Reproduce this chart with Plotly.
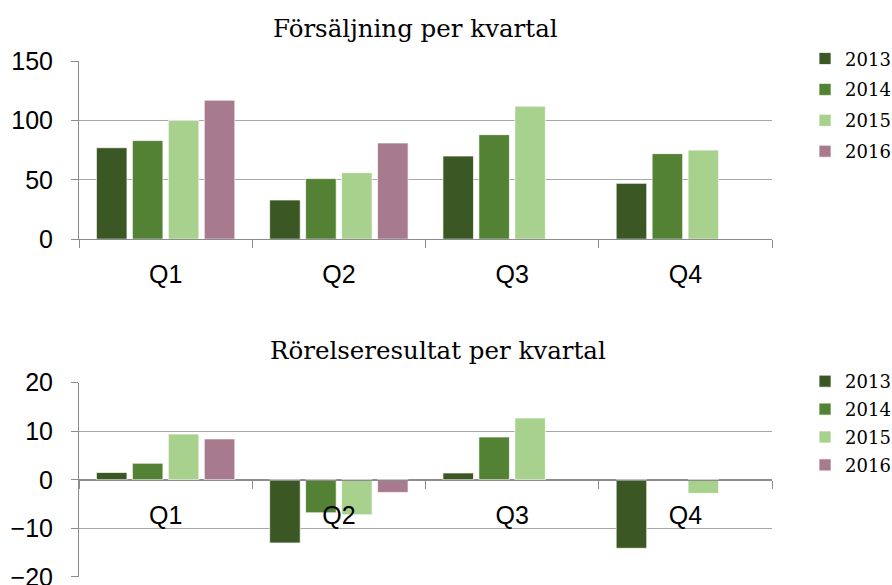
import plotly.graph_objects as go

quarters = ["Q1", "Q2", "Q3", "Q4"]
years = ["2013", "2014", "2015", "2016"]
colors = ["#3b5723", "#548235", "#a9d18e", "#a87a8e"]

sales_2013 = [77, 33, 70, 47]
sales_2014 = [83, 51, 88, 72]
sales_2015 = [100, 56, 112, 75]
sales_2016 = [117, 81, None, None]

ebit_2013 = [1.5, -13.0, 1.4, -14.1]
ebit_2014 = [3.4, -6.8, 8.8, None]
ebit_2015 = [9.4, -7.2, 12.7, -2.8]
ebit_2016 = [8.4, -2.6, None, None]

sales = [sales_2013, sales_2014, sales_2015, sales_2016]
ebit = [ebit_2013, ebit_2014, ebit_2015, ebit_2016]

title_top = "Försäljning per kvartal"
title_bottom = "Rörelseresultat per kvartal"

fig = go.Figure()

for yr, col, vals in zip(years, colors, sales):
    fig.add_trace(go.Bar(
        x=quarters, y=vals, name=yr, marker_color=col,
        marker_line=dict(width=1, color="rgba(255,255,255,0.7)"),
        xaxis="x", yaxis="y", legend="legend", legendgroup="a" + yr,
    ))
for yr, col, vals in zip(years, colors, ebit):
    fig.add_trace(go.Bar(
        x=quarters, y=vals, name=yr, marker_color=col,
        marker_line=dict(width=1, color="rgba(255,255,255,0.7)"),
        xaxis="x2", yaxis="y2", legend="legend2", legendgroup="b" + yr,
    ))

grid = "#a6a6a6"
line = "#8c8c8c"
tickfont = dict(family="Liberation Sans, Arial", size=25, color="#000000")
serif = "DejaVu Serif"

common_x = dict(
    type="category", showgrid=False, showline=True, linecolor=line, linewidth=1,
    ticks="outside", tickson="boundaries", ticklen=8, tickcolor=line,
    tickfont=tickfont, automargin=False, ticklabelstandoff=13,
)
common_y = dict(
    showgrid=True, gridcolor=grid, gridwidth=1.3, showline=True, linecolor=line,
    linewidth=1, ticks="outside", ticklen=7, tickcolor=line, tickfont=tickfont,
    automargin=False, ticklabelstandoff=13, zeroline=False,
    ticklabeloverflow="allow",
)

fig.update_layout(
    width=892, height=585, template="none",
    paper_bgcolor="white", plot_bgcolor="white",
    margin=dict(l=78.7, r=119.7, t=61, b=7.7),
    barmode="group", bargap=0.17, bargroupgap=0.15,
    xaxis=dict(common_x, domain=[0, 1], anchor="y"),
    yaxis=dict(common_y, domain=[0.6547, 1.0], range=[0, 150], dtick=50),
    xaxis2=dict(common_x, domain=[0, 1], anchor="free", position=0.18845),
    yaxis2=dict(common_y, domain=[0, 0.3769], range=[-20, 20], dtick=10,
                zeroline=True, zerolinecolor=line, zerolinewidth=1),
    legend=dict(x=0.9025, y=0.9311, xref="container", yref="container",
                xanchor="left", yanchor="top",
                font=dict(family=serif, size=18, color="#000"),
                tracegroupgap=4.5, bgcolor="rgba(0,0,0,0)"),
    legend2=dict(x=0.9025, y=0.3795, xref="container", yref="container",
                 xanchor="left", yanchor="top",
                 font=dict(family=serif, size=18, color="#000"),
                 tracegroupgap=1.5, bgcolor="rgba(0,0,0,0)"),
    showlegend=True,
    annotations=[
        dict(text=title_top, x=0.4849, y=1.0639, xref="paper", yref="paper",
             xanchor="center", yanchor="middle", showarrow=False,
             font=dict(family=serif, size=24.5, color="#000")),
        dict(text=title_bottom, x=0.518, y=0.4383, xref="paper", yref="paper",
             xanchor="center", yanchor="middle", showarrow=False,
             font=dict(family=serif, size=24.5, color="#000")),
    ],
)

fig.write_html("out.html", config={"displayModeBar": False},
               post_script="document.body.style.margin='0';")
